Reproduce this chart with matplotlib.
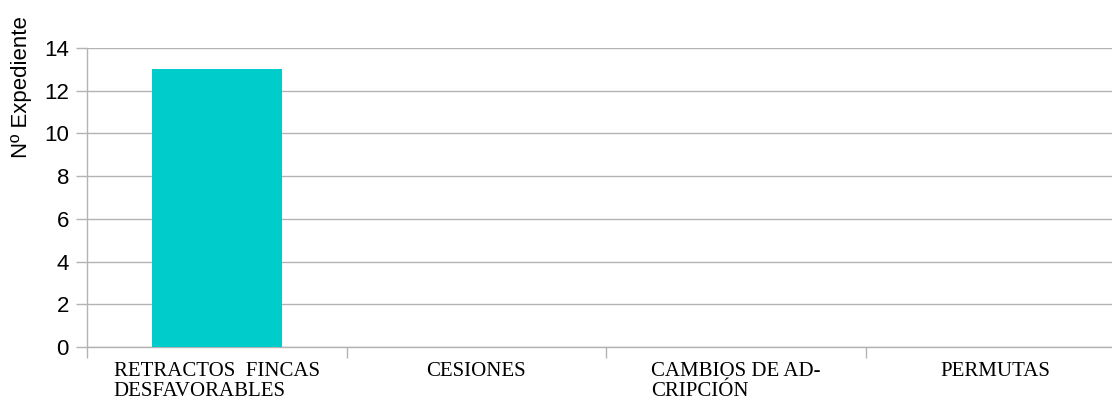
import numpy as np
import matplotlib.pyplot as plt

# ---------- data ----------
categorias = ['RETRACTOS  FINCAS\nDESFAVORABLES', 'CESIONES',
              'CAMBIOS DE AD-\nCRIPCIÓN', 'PERMUTAS']
expedientes = [13, 0, 0, 0]
y_ticks = [0, 2, 4, 6, 8, 10, 12, 14]

gris = '#b3b3b3'

fig = plt.figure(figsize=(11.12, 4.03), dpi=100)
ax = fig.add_axes([87/1112, 56/403, 1038/1112, 299/403])

x = np.arange(len(categorias))
ax.bar(x, expedientes, width=0.5, color='#00cccc', zorder=3)

ax.set_xlim(-0.5, len(categorias) - 0.5)
ax.set_ylim(0, 14)

# grid + axis lines
ax.set_yticks(y_ticks)
ax.yaxis.grid(True, color=gris, linewidth=1, zorder=0)
for s in ['top', 'right']:
    ax.spines[s].set_visible(False)
for s in ['left', 'bottom']:
    ax.spines[s].set_color(gris)
    ax.spines[s].set_linewidth(1)

ax.tick_params(axis='y', length=8, color=gris, width=1, pad=5,
               labelsize=16, labelcolor='black')
for t in ax.get_yticklabels():
    t.set_fontfamily('Liberation Sans')

# category labels at centres, tick marks at boundaries
ax.set_xticks(x)
ax.set_xticklabels(categorias, fontfamily='Liberation Serif', fontsize=15,
                   multialignment='left', linespacing=1.06)
ax.set_xticks(np.arange(len(categorias) + 1) - 0.5, minor=True)
ax.tick_params(axis='x', which='major', length=0, pad=11)
ax.tick_params(axis='x', which='minor', length=8, color=gris, width=1)

ax.set_ylabel('Nº Expediente', fontfamily='Liberation Sans', fontsize=16)
ax.yaxis.set_label_coords(-0.053, 0.87)

fig.savefig('out.png', dpi=100)
